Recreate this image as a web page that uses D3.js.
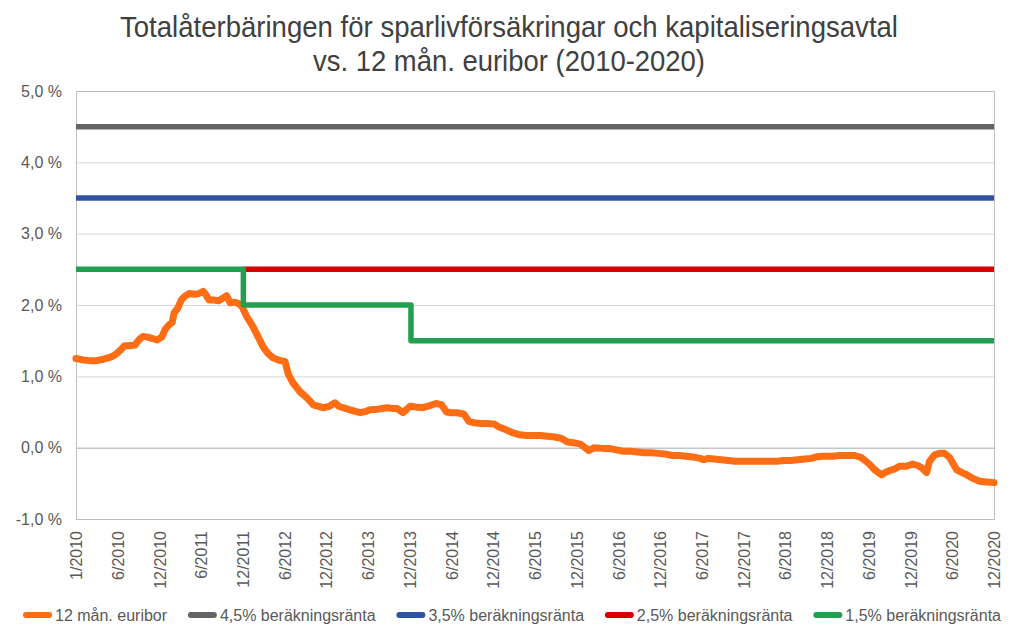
<!DOCTYPE html>
<html><head><meta charset="utf-8">
<script src="https://cdn.jsdelivr.net/npm/d3@7"></script>
<style>body{margin:0;background:#fff}svg{display:block}</style>
</head><body><svg id="c" width="1018" height="630"></svg>
<script>
// ---------- DATA ----------
const titleLines = ["Totalåterbäringen för sparlivförsäkringar och kapitaliseringsavtal", "vs. 12 mån. euribor (2010-2020)"];
const seriesNames = ["12 mån. euribor", "4,5% beräkningsränta", "3,5% beräkningsränta", "2,5% beräkningsränta", "1,5% beräkningsränta"];
const seriesColors = ["#fe6c14", "#646464", "#2f53a3", "#d60000", "#23a04f"];

const euriborDates = [
"2010-01-01","2010-02-01","2010-03-01","2010-04-01","2010-05-01","2010-06-01","2010-06-20","2010-07-15","2010-08-01","2010-08-20","2010-09-15","2010-10-05","2010-10-20","2010-11-10","2010-12-01","2010-12-20",
"2011-01-10","2011-01-25","2011-02-10","2011-02-25","2011-03-05","2011-03-20","2011-04-05","2011-04-20","2011-05-10","2011-06-01","2011-06-20","2011-07-10","2011-07-20","2011-08-05","2011-08-25","2011-09-15","2011-10-05","2011-10-20","2011-11-05","2011-11-25","2011-12-10","2011-12-26",
"2012-01-15","2012-02-11","2012-03-01","2012-03-26","2012-04-15","2012-05-09","2012-06-10","2012-06-30","2012-07-15","2012-08-04","2012-09-05","2012-10-04","2012-11-01","2012-12-13",
"2013-01-10","2013-02-04","2013-02-20","2013-03-10","2013-04-10","2013-05-24","2013-06-20","2013-07-06","2013-08-10","2013-09-18","2013-10-15","2013-11-01","2013-11-27","2013-12-28",
"2014-01-20","2014-02-22","2014-03-25","2014-04-20","2014-05-15","2014-06-05","2014-06-25","2014-07-20","2014-08-20","2014-09-10","2014-10-01","2014-11-01","2014-12-01","2014-12-31",
"2015-01-20","2015-02-20","2015-03-20","2015-04-20","2015-05-20","2015-06-20","2015-07-20","2015-08-20","2015-09-20","2015-10-20","2015-11-15","2015-12-10",
"2016-01-10","2016-02-15","2016-03-10","2016-04-15","2016-05-15","2016-06-15","2016-07-15","2016-08-15","2016-09-15","2016-10-15","2016-11-15","2016-12-15",
"2017-01-15","2017-02-15","2017-03-15","2017-04-15","2017-05-15","2017-06-15","2017-07-01","2017-07-20","2017-08-15","2017-09-15","2017-10-15","2017-11-15","2017-12-15",
"2018-01-15","2018-02-15","2018-03-15","2018-04-15","2018-05-15","2018-06-15","2018-07-15","2018-08-15","2018-09-15","2018-10-15","2018-11-01","2018-12-01",
"2019-01-15","2019-02-15","2019-03-15","2019-04-20","2019-05-20","2019-06-20","2019-07-20","2019-08-16","2019-08-30","2019-09-20","2019-10-10","2019-11-03","2019-12-01","2019-12-29",
"2020-01-20","2020-02-06","2020-02-28","2020-03-12","2020-04-03","2020-04-25","2020-05-17","2020-06-08","2020-07-08","2020-07-25","2020-08-21","2020-09-15","2020-10-16","2020-11-15","2020-12-18"];
const euriborValues = [
1.25,1.23,1.22,1.22,1.24,1.27,1.30,1.37,1.43,1.43,1.44,1.52,1.56,1.55,1.53,1.51,
1.55,1.66,1.72,1.76,1.89,1.95,2.07,2.12,2.16,2.15,2.16,2.19,2.15,2.07,2.07,2.06,2.10,2.13,2.03,2.04,2.02,1.98,
1.84,1.70,1.58,1.42,1.33,1.26,1.22,1.21,1.03,0.91,0.78,0.70,0.60,0.56,
0.58,0.63,0.58,0.56,0.53,0.49,0.51,0.53,0.54,0.56,0.55,0.55,0.49,0.58,
0.57,0.56,0.59,0.62,0.60,0.50,0.49,0.49,0.47,0.37,0.35,0.34,0.34,0.33,
0.29,0.25,0.21,0.18,0.17,0.17,0.17,0.16,0.15,0.13,0.08,0.07,
0.05,-0.04,0.00,-0.01,-0.01,-0.03,-0.05,-0.05,-0.06,-0.07,-0.07,-0.08,
-0.09,-0.11,-0.11,-0.12,-0.13,-0.15,-0.17,-0.15,-0.16,-0.17,-0.18,-0.19,-0.19,
-0.19,-0.19,-0.19,-0.19,-0.19,-0.18,-0.18,-0.17,-0.16,-0.15,-0.13,-0.12,
-0.12,-0.11,-0.11,-0.11,-0.14,-0.22,-0.32,-0.38,-0.35,-0.32,-0.30,-0.26,-0.26,-0.23,
-0.25,-0.28,-0.35,-0.19,-0.10,-0.08,-0.08,-0.14,-0.31,-0.34,-0.38,-0.43,-0.47,-0.48,-0.49];

const rate45Dates = ["2010-01-01", "2020-12-18"];
const rate45Values = [4.5, 4.5];
const rate35Dates = ["2010-01-01", "2020-12-18"];
const rate35Values = [3.5, 3.5];
const rate25Dates = ["2012-01-01", "2020-12-18"];
const rate25Values = [2.5, 2.5];
const rate15Dates = ["2010-01-01", "2012-01-01", "2014-01-01", "2020-12-18"];
const rate15Values = [2.5, 2.0, 1.5, 1.5];

const yTickValues = [-1, 0, 1, 2, 3, 4, 5];
const xTickLabels = ["1/2010","6/2010","12/2010","6/2011","12/2011","6/2012","12/2012","6/2013","12/2013","6/2014","12/2014","6/2015","12/2015","6/2016","12/2016","6/2017","12/2017","6/2018","12/2018","6/2019","12/2019","6/2020","12/2020"];

// ---------- CHART ----------
const parse = d3.utcParse("%Y-%m-%d");
const svg = d3.select("#c");
const W = 1018, H = 630;
const plot = {left: 76, right: 994, top: 91, bottom: 519};
const FONT = "'Liberation Sans', Arial, sans-serif";
const locale = d3.formatLocale({decimal: ",", thousands: " ", grouping: [3], currency: ["", " €"], minus: "-"});

const toPts = (ds, vs) => ds.map((d, i) => ({date: parse(d), value: vs[i]}));
const euribor = toPts(euriborDates, euriborValues);
const series = [
  {pts: euribor, color: seriesColors[0], width: 7, curve: d3.curveLinear, cap: "round"},
  {pts: toPts(rate45Dates, rate45Values), color: seriesColors[1], width: 5.5, curve: d3.curveLinear, cap: "butt"},
  {pts: toPts(rate35Dates, rate35Values), color: seriesColors[2], width: 5.5, curve: d3.curveLinear, cap: "butt"},
  {pts: toPts(rate25Dates, rate25Values), color: seriesColors[3], width: 5.5, curve: d3.curveLinear, cap: "butt"},
  {pts: toPts(rate15Dates, rate15Values), color: seriesColors[4], width: 5.5, curve: d3.curveStepAfter, cap: "butt"}
];

const x = d3.scaleUtc().domain(d3.extent(euribor, d => d.date)).range([plot.left, plot.right]);
const y = d3.scaleLinear().domain([-1, 5]).range([plot.bottom, plot.top]);

// title
titleLines.forEach((t, i) => {
  svg.append("text").attr("x", 509).attr("y", 37 + i * 34)
    .attr("text-anchor", "middle")
    .attr("font-family", "'Liberation Sans Narrow', 'Arial Narrow', " + FONT)
    .attr("font-size", 29).attr("fill", "#404040")
    .attr("textLength", i === 0 ? 778 : 392).attr("lengthAdjust", "spacingAndGlyphs")
    .text(t);
});

// gridlines
const grid = svg.append("g");
yTickValues.forEach(v => {
  grid.append("line").attr("x1", plot.left).attr("x2", plot.right)
    .attr("y1", y(v) + 0.5).attr("y2", y(v) + 0.5)
    .attr("stroke", v === 0 ? "#a9a9a9" : "#d9d9d9").attr("stroke-width", 1);
});
svg.append("rect").attr("x", plot.left + 0.5).attr("y", plot.top + 0.5)
  .attr("width", plot.right - plot.left).attr("height", plot.bottom - plot.top)
  .attr("fill", "none").attr("stroke", "#bfbfbf");

// y axis
const yAxis = d3.axisLeft(y).tickValues(yTickValues).tickSize(0).tickPadding(14)
  .tickFormat(v => locale.format(".1f")(v) + " %");
const gy = svg.append("g").attr("transform", `translate(${plot.left},0)`).call(yAxis);
gy.select(".domain").remove();
gy.selectAll("text").attr("font-family", FONT).attr("font-size", 16).attr("fill", "#595959");

// x axis ticks evenly spread over the domain
const [d0, d1] = x.domain();
const step = (d1 - d0) / (xTickLabels.length - 1);
const xTickDates = xTickLabels.map((_, i) => new Date(+d0 + i * step));
const xAxis = d3.axisBottom(x).tickValues(xTickDates).tickSize(0).tickPadding(0)
  .tickFormat((d, i) => xTickLabels[i]);
const gx = svg.append("g").attr("transform", `translate(0,${plot.bottom})`).call(xAxis);
gx.select(".domain").remove();
gx.selectAll("text").attr("font-family", FONT).attr("font-size", 16).attr("fill", "#595959")
  .attr("text-anchor", "end").attr("transform", "translate(0,12) rotate(-90)")
  .attr("x", 0).attr("y", 0).attr("dy", "0.35em");

// lines
const lineGen = c => d3.line().x(d => x(d.date)).y(d => y(d.value)).curve(c);
series.forEach(s => {
  svg.append("path").datum(s.pts).attr("d", lineGen(s.curve))
    .attr("fill", "none").attr("stroke", s.color).attr("stroke-width", s.width)
    .attr("stroke-linejoin", "round").attr("stroke-linecap", s.cap);
});

// legend
const leg = svg.append("g");
const items = [];
seriesNames.forEach((n, i) => {
  const g = leg.append("g");
  g.append("line").attr("x1", 3).attr("x2", 26).attr("y1", 0).attr("y2", 0)
    .attr("stroke", seriesColors[i]).attr("stroke-width", 6).attr("stroke-linecap", "round");
  const t = g.append("text").attr("x", 32).attr("y", 0).attr("dy", "0.35em")
    .attr("font-family", FONT).attr("font-size", 16).attr("fill", "#595959").text(n);
  const w = 32 + t.node().getComputedTextLength();
  items.push({g, w});
});
const legLeft = 23, legRight = 1001;
const gap = (legRight - legLeft - d3.sum(items, d => d.w)) / (items.length - 1);
let start = legLeft;
items.forEach(it => { it.g.attr("transform", `translate(${start},615)`); start += it.w + gap; });
</script></body></html>
